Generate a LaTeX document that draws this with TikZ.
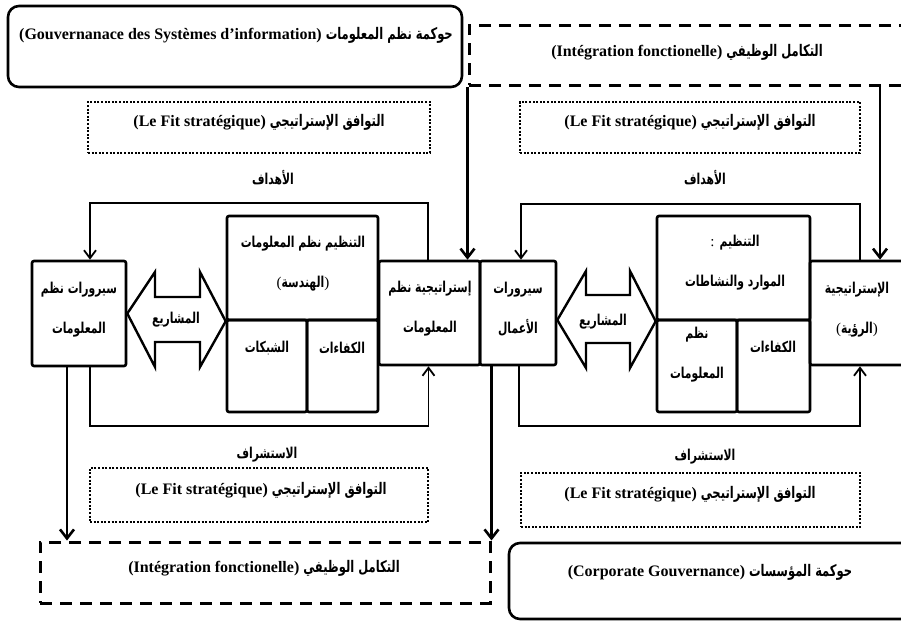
\documentclass[tikz,border=0pt]{standalone}
\usepackage{graphicx}
\usepackage{fontspec}
\setmainfont{Liberation Serif}
\newfontfamily\arabicfont[Script=Arabic]{DejaVu Sans}
\TeXXeTstate=1
\usetikzlibrary{arrows.meta}
\newcommand\AR[1]{\scalebox{0.72}[1]{\arabicfont\bfseries\beginR #1\endR}}
\newcommand\LA[1]{{\bfseries #1}}
\begin{document}
\begin{tikzpicture}[x=1pt,y=-1pt,
  box/.style={draw,line width=2.6pt,rounded corners=2pt,inner sep=0pt,anchor=center},
  roundbox/.style={draw,line width=2.6pt,rounded corners=11pt,inner sep=0pt},
  dotbox/.style={draw,line width=2.6pt,dash pattern=on 2pt off 1.6pt,inner sep=0pt},
  dashbox/.style={draw,line width=3pt,dash pattern=on 12pt off 8pt,inner sep=0pt},
  txt/.style={inner sep=1pt,align=center,font=\fontsize{16}{18}\selectfont},
  artxt/.style={inner sep=1pt,align=center,font=\fontsize{15}{16}\selectfont},
  boxtxt/.style={inner sep=1pt,align=center,font=\fontsize{15}{40}\selectfont},
  loopline/.style={line width=1.8pt},
  bigline/.style={line width=2.8pt},
  tip/.tip={Straight Barb[length=8pt,width=12pt,line width=1.8pt]},
  bigtip/.tip={Straight Barb[length=9pt,width=14pt,line width=2.6pt]},
  twoarrow/.style={draw,line width=2.4pt,fill=white,line join=miter}
]
\useasboundingbox (0,0) rectangle (901,621);

% top frames
\node[roundbox,minimum width=454pt,minimum height=81pt] (govIS) at (235,46.5) {};
\node[txt] (govIStxt) at (236,35) {\LA{(Gouvernanace des Systèmes d’information)} \AR{حوكمة نظم المعلومات}};
\node[dashbox,minimum width=441pt,minimum height=60pt] (intTop) at (689.5,55) {};
\node[txt] (intToptxt) at (687,52) {\LA{(Intégration fonctionelle)} \AR{التكامل الوظيفي}};

\node[dotbox,minimum width=342pt,minimum height=51pt] (fitTL) at (259,127.5) {};
\node[txt] (fitTLtxt) at (259,122) {\LA{(Le Fit stratégique)} \AR{التوافق الإستراتيجي}};
\node[dotbox,minimum width=340pt,minimum height=51pt] (fitTR) at (690,127.5) {};
\node[txt] (fitTRtxt) at (690,122) {\LA{(Le Fit stratégique)} \AR{التوافق الإستراتيجي}};

\node[artxt] (goalL) at (273,178) {\AR{الأهداف}};
\node[artxt] (goalR) at (705,178) {\AR{الأهداف}};

% left group
\node[box,minimum width=94pt,minimum height=105pt] (procIS) at (79,313.5) {};
\node[boxtxt] (procIStxt) at (79,310) {\AR{سيرورات نظم}\\\AR{المعلومات}};
\node[box,minimum width=151pt,minimum height=104pt] (orgLtop) at (302.5,268) {};
\node[boxtxt] (orgLtoptxt) at (303,264) {\AR{التنظيم نظم المعلومات}\\(\AR{الهندسة})};
\node[box,minimum width=80pt,minimum height=92pt] (orgLbl) at (267,366) {};
\node[artxt] (orgLbltxt) at (267,348) {\AR{الشبكات}};
\node[box,minimum width=71pt,minimum height=92pt] (orgLbr) at (342.5,366) {};
\node[artxt] (orgLbrtxt) at (342,348) {\AR{الكفاءات}};
\node[box,minimum width=101pt,minimum height=104pt] (stratIS) at (429.5,313) {};
\node[boxtxt] (stratIStxt) at (430,309) {\AR{إستراتيجية نظم}\\\AR{المعلومات}};

% right group
\node[box,minimum width=76pt,minimum height=104pt] (procB) at (518,313) {};
\node[boxtxt] (procBtxt) at (518,309) {\AR{سيرورات}\\\AR{الأعمال}};
\node[box,minimum width=153pt,minimum height=104pt] (orgRtop) at (733.5,268) {};
\node[boxtxt] (orgRtoptxt) at (735,263) {: \AR{التنظيم}\\\AR{الموارد والنشاطات}};
\node[box,minimum width=80pt,minimum height=92pt] (orgRbl) at (697,366) {};
\node[boxtxt] (orgRbltxt) at (697,355) {\AR{نظم}\\\AR{المعلومات}};
\node[box,minimum width=73pt,minimum height=92pt] (orgRbr) at (773.5,366) {};
\node[artxt] (orgRbrtxt) at (773,347) {\AR{الكفاءات}};
\node[box,minimum width=100pt,minimum height=104pt] (stratR) at (860,313) {};
\node[boxtxt] (stratRtxt) at (857,310) {\AR{الإستراتيجية}\\(\AR{الرؤية})};

% double arrows (projects)
\draw[twoarrow] (procIS.east) -- (155,272) -- (155,297) -- (200,297) -- (200,272) -- (orgLtop.south west)
  -- (200,367) -- (200,342) -- (155,342) -- (155,367) -- cycle;
\node[artxt] (projL) at (176,320) {\AR{المشاريع}};
\draw[twoarrow] (procB.east |- 0,320) -- (586,271) -- (586,295) -- (630,295) -- (630,271) -- (orgRtop.south west)
  -- (630,368) -- (630,343) -- (586,343) -- (586,368) -- cycle;
\node[artxt] (projR) at (603,322) {\AR{المشاريع}};

% feedback loops
\draw[loopline,-tip] ([xshift=-1.5pt]stratIS.north) -- ++(0,-57) -| ([xshift=11pt]procIS.north);
\draw[loopline,-tip] (stratR.north) -- ++(0,-56) -| ([xshift=3pt]procB.north);
\draw[loopline,-tip] ([xshift=11pt]procIS.south) -- ++(0,59) -| ([xshift=-1pt]stratIS.south);
\draw[loopline,-tip] ([xshift=1pt]procB.south) -- ++(0,60) -| (stratR.south);

% vertical arrows from integration
\coordinate (c880) at (880,0);
\draw[bigline,-bigtip] (intTop.south west) -- (intTop.south west |- stratIS.north);
\draw[bigline,-bigtip] (c880 |- intTop.south) -- (c880 |- stratR.north);

\node[artxt] (foreL) at (267,455) {\AR{الاستشراف}};
\node[artxt] (foreR) at (705,457) {\AR{الاستشراف}};

% bottom frames
\node[dotbox,minimum width=338pt,minimum height=54pt] (fitBL) at (259,495) {};
\node[txt] (fitBLtxt) at (261,490) {\LA{(Le Fit stratégique)} \AR{التوافق الإستراتيجي}};
\node[dotbox,minimum width=339pt,minimum height=54pt] (fitBR) at (690.5,500) {};
\node[txt] (fitBRtxt) at (690,494) {\LA{(Le Fit stratégique)} \AR{التوافق الإستراتيجي}};
\node[dashbox,minimum width=450pt,minimum height=61pt] (intBot) at (265,572.5) {};
\node[txt] (intBottxt) at (264,568) {\LA{(Intégration fonctionelle)} \AR{التكامل الوظيفي}};
\node[roundbox,minimum width=406pt,minimum height=76pt] (govCorp) at (712,581) {};
\node[txt] (govCorptxt) at (710,572) {\LA{(Corporate Gouvernance)} \AR{حوكمة المؤسسات}};

\draw[bigline,-bigtip] ([xshift=-12pt]procIS.south) -- ([xshift=-12pt]procIS.south |- intBot.north);
\draw[bigline,-bigtip] (intBot.north east |- procB.south) -- (intBot.north east);
\end{tikzpicture}
\end{document}
